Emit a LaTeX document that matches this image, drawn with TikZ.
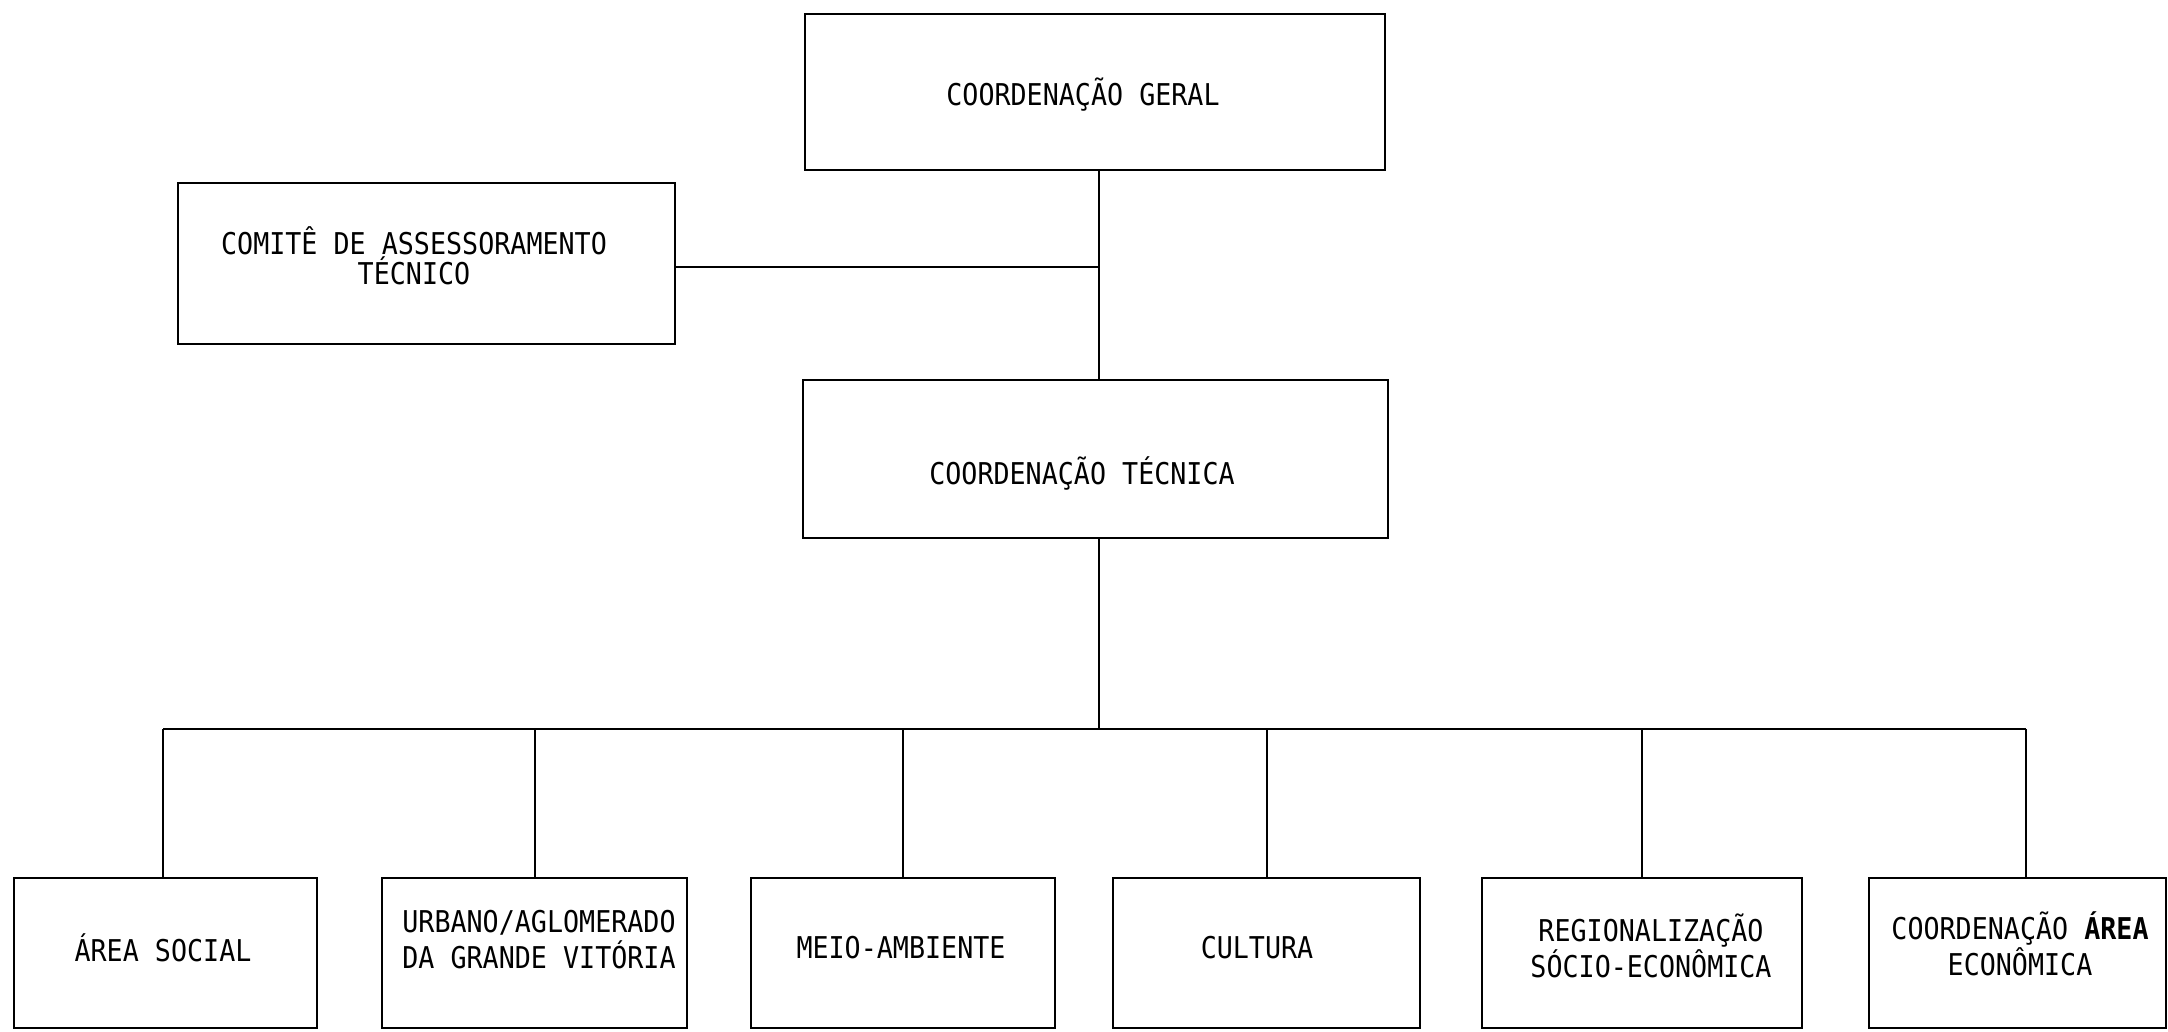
\documentclass[tikz,border=0pt]{standalone}
\usepackage{fontspec}
\setmainfont{DejaVu Sans Mono}[FakeStretch=0.89]
\begin{document}
\begin{tikzpicture}[x=0.5pt,y=-0.5pt,
  box/.style={draw, line width=1.4pt, rectangle, inner sep=0pt},
  conn/.style={draw, line width=1pt},
  lbl/.style={font=\fontsize{15}{19}\selectfont, align=center, inner sep=0pt}]
\useasboundingbox (0,0) rectangle (2168,1032);
% boxes
\node[box, minimum width=290pt, minimum height=78pt] (geral) at (1095,92) {};
\node[box, minimum width=248.5pt, minimum height=80.5pt] (comite) at (426.5,263.5) {};
\node[box, minimum width=292.5pt, minimum height=79pt] (tecnica) at (1095.5,459) {};
\node[box, minimum width=151.5pt, minimum height=75pt] (b1) at (165.5,953) {};
\node[box, minimum width=152.5pt, minimum height=75pt] (b2) at (534.5,953) {};
\node[box, minimum width=152pt, minimum height=75pt] (b3) at (903,953) {};
\node[box, minimum width=153.5pt, minimum height=75pt] (b4) at (1266.5,953) {};
\node[box, minimum width=160pt, minimum height=75pt] (b5) at (1642,953) {};
\node[box, minimum width=148.5pt, minimum height=75pt] (b6) at (2017.5,953) {};
% labels
\node[lbl] (tgeral) at (1083,95) {COORDENAÇÃO GERAL};
\node[lbl, font=\fontsize{15}{14}\selectfont] (tcomite) at (414,256) {COMITÊ DE ASSESSORAMENTO\\TÉCNICO};
\node[lbl] (ttecnica) at (1082,473) {COORDENAÇÃO TÉCNICA};
\node[lbl] (t1) at (163,948) {ÁREA SOCIAL};
\node[lbl, font=\fontsize{15}{18}\selectfont] (t2) at (539,940) {URBANO/AGLOMERADO\\DA GRANDE VITÓRIA};
\node[lbl] (t3) at (901,948) {MEIO-AMBIENTE};
\node[lbl] (t4) at (1257,948) {CULTURA};
\node[lbl, font=\fontsize{15}{16.6}\selectfont] (t5) at (1651,946) {REGIONALIZAÇÃO\\SÓCIO-ECONÔMICA};
\node[lbl, font=\fontsize{15}{16.6}\selectfont] (t6) at (2020,944) {COORDENAÇÃO \textbf{ÁREA}\\ECONÔMICA};
% connectors
\coordinate (spine) at (1099,267);
\coordinate (busL) at (163,729);
\coordinate (busR) at (2026,729);
\draw[conn] (geral.south -| spine) -- (tecnica.north -| spine);
\draw[conn] (comite.east |- spine) -- (spine);
\draw[conn] (tecnica.south -| spine) -- (spine |- busL);
\draw[conn] (busL) -- (busR);
\draw[conn] (busL) -- (busL |- b1.north);
\draw[conn] (b2.north |- busL) -- (b2.north);
\draw[conn] (b3.north |- busL) -- (b3.north);
\draw[conn] (b4.north |- busL) -- (b4.north);
\draw[conn] (b5.north |- busL) -- (b5.north);
\draw[conn] (busR) -- (busR |- b6.north);
\end{tikzpicture}
\end{document}
